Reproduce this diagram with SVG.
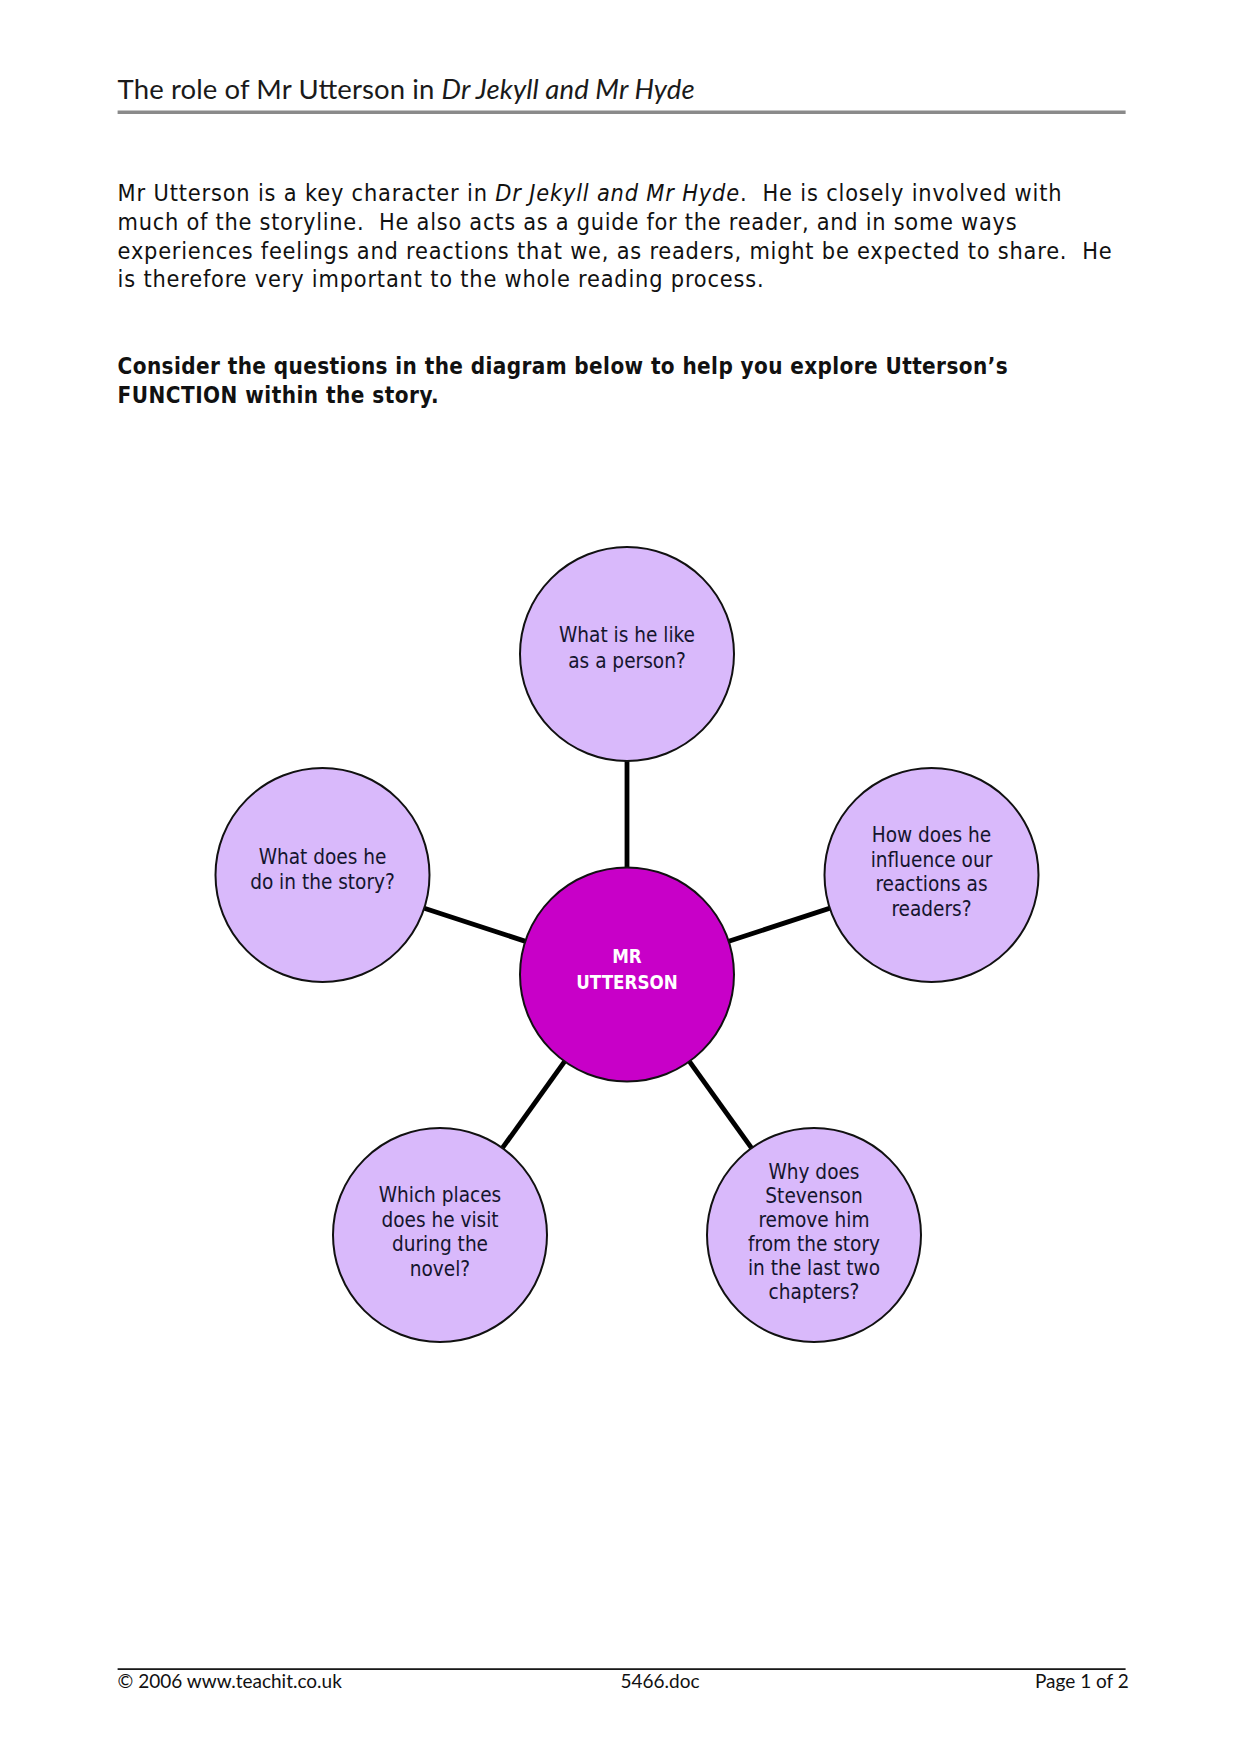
<svg xmlns="http://www.w3.org/2000/svg" width="1239" height="1754" viewBox="0 0 1239 1754">
<style>
.title{font-family:Lato,"Liberation Sans",sans-serif;font-size:27.5px;fill:#1a1a1a}
.body{font-family:"DejaVu Sans",sans-serif;font-stretch:condensed;font-size:23.3px;fill:#111;white-space:pre}
.bold{font-family:"DejaVu Sans",sans-serif;font-stretch:condensed;font-size:22.3px;font-weight:bold;fill:#111;white-space:pre}
.foot{font-family:Lato,"Liberation Sans",sans-serif;font-size:19px;fill:#111}
.node circle{fill:#d9b9fb;stroke:#111;stroke-width:2}
.node text{font-family:"DejaVu Sans",sans-serif;font-stretch:condensed;font-size:20.6px;fill:#15152e;text-anchor:middle}
#center circle{fill:#c800c8}
#center text{fill:#fff;font-weight:bold;font-size:18.6px}
.conn line{stroke:#000;stroke-width:4.8}
</style>
<rect width="1239" height="1754" fill="#fff"/>
<text class="title" x="117.6" y="99" textLength="577" lengthAdjust="spacing">The role of Mr Utterson in <tspan font-style="italic">Dr Jekyll and Mr Hyde</tspan></text>
<rect x="117.6" y="110.5" width="1008" height="3.5" fill="#8a8a8a"/>
<g class="body">
<text x="117.6" y="201" textLength="944" lengthAdjust="spacing" xml:space="preserve">Mr Utterson is a key character in <tspan font-style="italic">Dr Jekyll and Mr Hyde</tspan>.  He is closely involved with</text>
<text x="117.6" y="230" textLength="899" lengthAdjust="spacing" xml:space="preserve">much of the storyline.  He also acts as a guide for the reader, and in some ways</text>
<text x="117.6" y="258.5" textLength="994" lengthAdjust="spacing" xml:space="preserve">experiences feelings and reactions that we, as readers, might be expected to share.  He</text>
<text x="117.6" y="287" textLength="646" lengthAdjust="spacing" xml:space="preserve">is therefore very important to the whole reading process.</text>
</g>
<text class="bold" x="117.6" y="374" textLength="890" lengthAdjust="spacing">Consider the questions in the diagram below to help you explore Utterson’s</text>
<text class="bold" x="117.6" y="403" textLength="321" lengthAdjust="spacing">FUNCTION within the story.</text>
<g class="conn" id="connectors">
<line x1="627" y1="974.5" x2="627" y2="654"/>
<line x1="627" y1="974.5" x2="322.5" y2="875"/>
<line x1="627" y1="974.5" x2="931.5" y2="875"/>
<line x1="627" y1="974.5" x2="440" y2="1235"/>
<line x1="627" y1="974.5" x2="814" y2="1235"/>
</g>
<g class="node" id="top">
<circle cx="627" cy="654" r="107"/>
<text x="627" y="642">What is he like</text>
<text x="627" y="668">as a person?</text>
</g>
<g class="node" id="left">
<circle cx="322.5" cy="875" r="107"/>
<text x="322.5" y="864">What does he</text>
<text x="322.5" y="888.5">do in the story?</text>
</g>
<g class="node" id="right">
<circle cx="931.5" cy="875" r="107"/>
<text x="931.5" y="842">How does he</text>
<text x="931.5" y="866.5">influence our</text>
<text x="931.5" y="891">reactions as</text>
<text x="931.5" y="915.5">readers?</text>
</g>
<g class="node" id="center">
<circle cx="627" cy="974.5" r="107"/>
<text x="627" y="963">MR</text>
<text x="627" y="989">UTTERSON</text>
</g>
<g class="node" id="bottomleft">
<circle cx="440" cy="1235" r="107"/>
<text x="440" y="1202">Which places</text>
<text x="440" y="1226.5">does he visit</text>
<text x="440" y="1251">during the</text>
<text x="440" y="1275.5">novel?</text>
</g>
<g class="node" id="bottomright">
<circle cx="814" cy="1235" r="107"/>
<text x="814" y="1179">Why does</text>
<text x="814" y="1203">Stevenson</text>
<text x="814" y="1227">remove him</text>
<text x="814" y="1251">from the story</text>
<text x="814" y="1275">in the last two</text>
<text x="814" y="1299">chapters?</text>
</g>
<rect x="117.6" y="1668.3" width="1008" height="1.6" fill="#000"/>
<text class="foot" x="117.6" y="1688">© 2006 www.teachit.co.uk</text>
<text class="foot" x="660" y="1688" text-anchor="middle">5466.doc</text>
<text class="foot" x="1128.8" y="1688" text-anchor="end">Page 1 of 2</text>
</svg>
